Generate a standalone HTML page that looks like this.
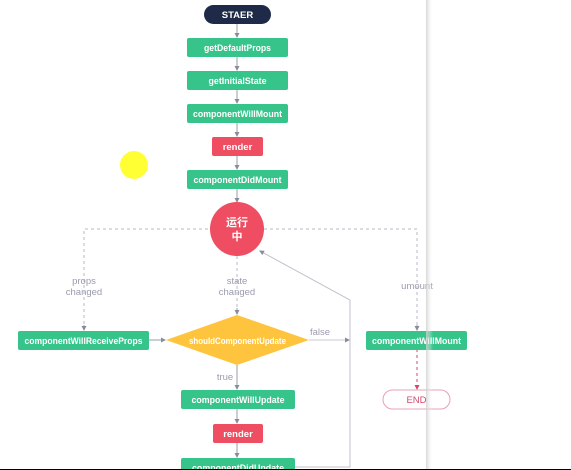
<!DOCTYPE html>
<html><head><meta charset="utf-8"><style>
html,body{margin:0;padding:0;background:#fff;}
svg{display:block;}
.t{font-family:"Liberation Sans","Noto Sans CJK SC",sans-serif;font-size:9.5px;font-weight:bold;fill:#fff;text-anchor:middle;}
.l{font-family:"Liberation Sans",sans-serif;font-size:9.5px;fill:#9a9cab;text-anchor:middle;}
</style></head><body>
<svg width="571" height="470" viewBox="0 0 571 470" xmlns="http://www.w3.org/2000/svg">
<defs>
<marker id="a" markerWidth="5" markerHeight="5" refX="4" refY="2.5" orient="auto"><path d="M0,0 L5,2.5 L0,5z" fill="#8a8c9a"/></marker>
<marker id="r" markerWidth="5" markerHeight="5" refX="4" refY="2.5" orient="auto"><path d="M0,0 L5,2.5 L0,5z" fill="#d4496a"/></marker>
<linearGradient id="sh" x1="0" x2="1"><stop offset="0" stop-color="#ccc"/><stop offset="1" stop-color="#fff" stop-opacity="0"/></linearGradient>
</defs>
<g stroke="#9a9cab" stroke-width="1" fill="none">
<line x1="237" y1="24" x2="237" y2="37" marker-end="url(#a)"/>
<line x1="237" y1="57" x2="237" y2="70" marker-end="url(#a)"/>
<line x1="237" y1="90" x2="237" y2="103" marker-end="url(#a)"/>
<line x1="237" y1="123" x2="237" y2="136" marker-end="url(#a)"/>
<line x1="237" y1="156" x2="237" y2="169" marker-end="url(#a)"/>
<line x1="237" y1="189" x2="237" y2="202" marker-end="url(#a)"/>
<g stroke-dasharray="3,3" stroke="#b8bac4">
<polyline points="84,330 84,229 210,229"/>
<polyline points="264,229 417,229 417,330"/>
<line x1="237" y1="256" x2="237" y2="314"/>
</g>
<line x1="84" y1="325" x2="84" y2="330" marker-end="url(#a)"/>
<line x1="237" y1="308" x2="237" y2="314" marker-end="url(#a)"/>
<line x1="417" y1="325" x2="417" y2="330" marker-end="url(#a)"/>
<line x1="149" y1="340" x2="165" y2="340" marker-end="url(#a)"/>
<line x1="309" y1="340" x2="349" y2="340" stroke="#c8cad4" marker-end="url(#a)"/>
<line x1="237" y1="365" x2="237" y2="389" marker-end="url(#a)"/>
<line x1="237" y1="409" x2="237" y2="423" marker-end="url(#a)"/>
<line x1="237" y1="443" x2="237" y2="457" marker-end="url(#a)"/>
<polyline points="295,467 350,467 350,300 260,251" stroke="#c0c2cc" marker-end="url(#a)"/>
<line x1="417" y1="349" x2="417" y2="389" stroke="#d4496a" stroke-dasharray="3,3" marker-end="url(#r)"/>
</g>
<rect x="204" y="5" width="67" height="19" rx="9.5" fill="#1e2a48"/>
<text class="t" x="237.5" y="18">STAER</text>
<g fill="#36c48a">
<rect x="187" y="38" width="101" height="19" rx="2"/>
<rect x="187" y="71" width="101" height="19" rx="2"/>
<rect x="187" y="104" width="101" height="19" rx="2"/>
<rect x="187" y="170" width="101" height="19" rx="2"/>
<rect x="18" y="331" width="131" height="19" rx="2"/>
<rect x="366" y="331" width="101" height="19" rx="2"/>
<rect x="181" y="390" width="114" height="19" rx="2"/>
<rect x="181" y="458" width="114" height="19" rx="2"/>
</g>
<g fill="#ee4d62">
<rect x="212" y="137" width="51" height="19" rx="2"/>
<rect x="213" y="424" width="50" height="19" rx="2"/>
<circle cx="237" cy="229" r="27"/>
</g>
<polygon points="166,340 237,315 309,340 237,365" fill="#ffc43d"/>
<rect x="383" y="390" width="67" height="19" rx="9.5" fill="#fff" stroke="#e8a0b4"/>
<text class="t" x="237.5" y="51" textLength="67" lengthAdjust="spacingAndGlyphs">getDefaultProps</text>
<text class="t" x="237.5" y="84" textLength="58" lengthAdjust="spacingAndGlyphs">getInitialState</text>
<text class="t" x="237.5" y="117" textLength="89" lengthAdjust="spacingAndGlyphs">componentWillMount</text>
<text class="t" x="237.5" y="150">render</text>
<text class="t" x="237.5" y="183" textLength="88" lengthAdjust="spacingAndGlyphs">componentDidMount</text>
<text class="t" x="237" y="226" style="font-size:11px">运行</text>
<text class="t" x="237" y="240" style="font-size:11px">中</text>
<text class="t" x="83.5" y="344" textLength="118" lengthAdjust="spacingAndGlyphs">componentWillReceiveProps</text>
<text class="t" x="237.5" y="344" textLength="97" lengthAdjust="spacingAndGlyphs">shouldComponentUpdate</text>
<text class="t" x="416.5" y="344" textLength="89" lengthAdjust="spacingAndGlyphs">componentWillMount</text>
<text class="t" x="238" y="403" textLength="93" lengthAdjust="spacingAndGlyphs">componentWillUpdate</text>
<text class="t" x="238" y="437">render</text>
<text class="t" x="238" y="471" textLength="92" lengthAdjust="spacingAndGlyphs">componentDidUpdate</text>
<text class="l" x="416.5" y="403" style="fill:#d4496a">END</text>
<text class="l" x="84" y="284">props</text>
<text class="l" x="84" y="295">changed</text>
<text class="l" x="237" y="284">state</text>
<text class="l" x="237" y="295">changed</text>
<text class="l" x="417" y="289">umount</text>
<text class="l" x="320" y="335">false</text>
<text class="l" x="225" y="380">true</text>
<circle cx="134" cy="165" r="14" fill="#ffff33"/>
<rect x="426" y="0" width="7" height="470" fill="url(#sh)" opacity="0.8"/>
<rect x="0" y="469" width="571" height="1" fill="#000"/>
</svg>
</body></html>
